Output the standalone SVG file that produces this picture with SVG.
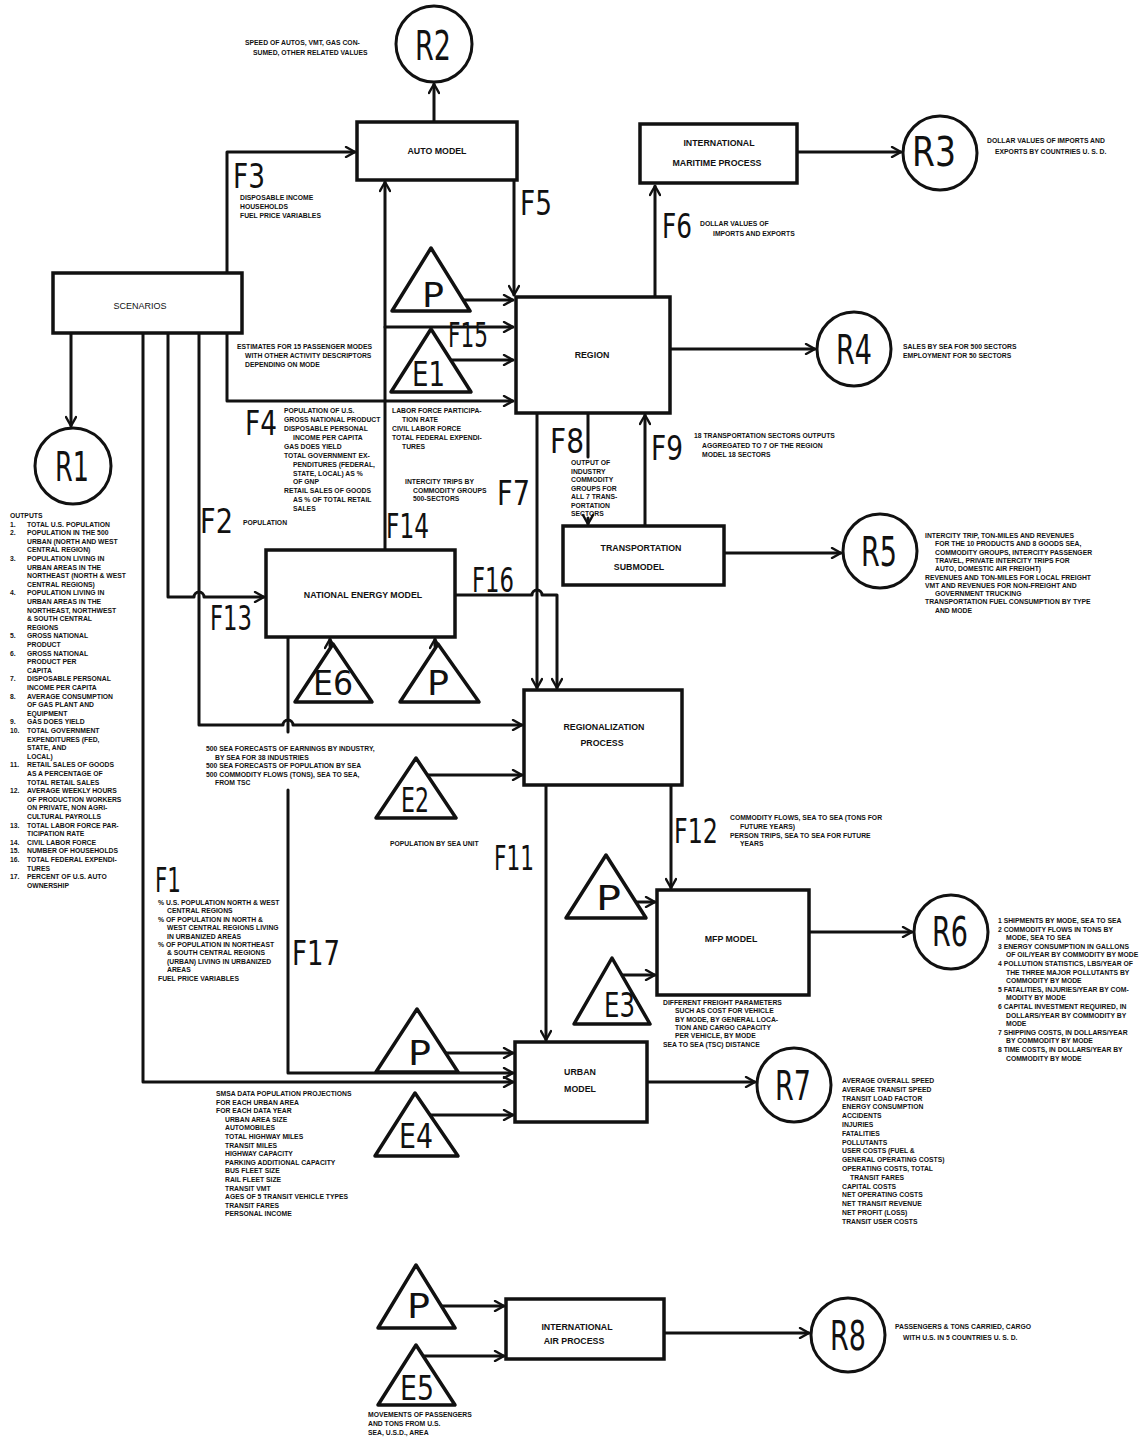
<svg xmlns="http://www.w3.org/2000/svg" width="1147" height="1440" viewBox="0 0 1147 1440">
<defs>
<marker id="a" viewBox="0 0 12 12" refX="11" refY="6" markerWidth="12" markerHeight="12" markerUnits="userSpaceOnUse" orient="auto">
<path d="M2,1 L11,6 L2,11" fill="none" stroke="#111" stroke-width="2.4" stroke-linecap="round" stroke-linejoin="round"/>
</marker>
<style>
.ln{fill:none;stroke:#111;stroke-width:3;stroke-linecap:round;stroke-linejoin:round}
.ar{marker-end:url(#a)}
.bx{fill:#fff;stroke:#111;stroke-width:3.5}
.cr{fill:#fff;stroke:#111;stroke-width:3}
.tr{fill:#fff;stroke:#111;stroke-width:3.5;stroke-linejoin:round}
.t{font-family:"Liberation Sans",Arial,sans-serif;font-weight:bold;font-size:6.8px;fill:#111}
.bl{font-family:"Liberation Sans",Arial,sans-serif;font-weight:bold;font-size:8.8px;fill:#111;text-anchor:middle}
.big{font-family:"DejaVu Sans",sans-serif;font-size:34px;fill:#111}
.rl{font-family:"DejaVu Sans",sans-serif;font-size:40px;fill:#111}
</style>
</defs>
<rect width="1147" height="1440" fill="#fff"/>

<g id="connectors">
<path class="ln ar" d="M434,121 V84"/>
<path class="ln ar" d="M227,273 V152 H355"/>
<path class="ln ar" d="M227,333 V401 H513"/>
<path class="ln ar" d="M514,181 V295"/>
<path class="ln ar" d="M655,296 V186"/>
<path class="ln ar" d="M797,152 H901"/>
<path class="ln ar" d="M462,300 H513"/>
<path class="ln ar" d="M385,327 H513"/>
<path class="ln ar" d="M452,360 H513"/>
<path class="ln ar" d="M385,549 V182"/>
<path class="ln ar" d="M670,349 H815"/>
<path class="ln ar" d="M537,414 V688"/>
<path class="ln" d="M588,414 V457"/>
<path class="ln ar" d="M588,518 V524"/>
<path class="ln ar" d="M645,526 V415"/>
<path class="ln ar" d="M724,553 H841"/>
<path class="ln ar" d="M71,334 V426"/>
<path class="ln ar" d="M168,334 V597 H194 a5,5 0 0 1 10,0 H264"/>
<path class="ln ar" d="M199,334 V725 H283 a5,5 0 0 1 10,0 H522"/>
<path class="ln ar" d="M143,334 V1082 H513"/>
<path class="ln ar" d="M456,595 H532 a5,5 0 0 1 10,0 H557 V688"/>
<path class="ln" d="M288,638 V732"/>
<path class="ln ar" d="M288,790 V1073 H513"/>
<path class="ln ar" d="M330,646 V639"/>
<path class="ln ar" d="M435,646 V639"/>
<path class="ln ar" d="M427,775 H522"/>
<path class="ln ar" d="M546,786 V1040"/>
<path class="ln ar" d="M671,786 V888"/>
<path class="ln ar" d="M636,902 H655"/>
<path class="ln ar" d="M622,975 H655"/>
<path class="ln ar" d="M809,932 H912"/>
<path class="ln ar" d="M446,1053 H513"/>
<path class="ln ar" d="M430,1115 H513"/>
<path class="ln ar" d="M648,1082 H755"/>
<path class="ln ar" d="M441,1306 H504"/>
<path class="ln ar" d="M423,1356 H504"/>
<path class="ln ar" d="M664,1333 H809"/>
</g>

<g id="flow-labels">
<text class="big" x="233" y="188" textLength="32" lengthAdjust="spacingAndGlyphs">F3</text>
<text class="t" x="240" y="200">DISPOSABLE INCOME</text>
<text class="t" x="240" y="209">HOUSEHOLDS</text>
<text class="t" x="240" y="218">FUEL PRICE VARIABLES</text>
<text class="big" x="520" y="215" textLength="32" lengthAdjust="spacingAndGlyphs">F5</text>
<text class="big" x="662" y="238" textLength="30" lengthAdjust="spacingAndGlyphs">F6</text>
<text class="t" x="700" y="226">DOLLAR VALUES OF</text>
<text class="t" x="713" y="236">IMPORTS AND EXPORTS</text>
<text class="t" x="237" y="349">ESTIMATES FOR 15 PASSENGER MODES</text>
<text class="t" x="245" y="358">WITH OTHER ACTIVITY DESCRIPTORS</text>
<text class="t" x="245" y="367">DEPENDING ON MODE</text>
<text class="big" x="448" y="347" font-size="26" textLength="40" lengthAdjust="spacingAndGlyphs">F15</text>
<text class="big" x="245" y="435" textLength="32" lengthAdjust="spacingAndGlyphs">F4</text>
<g class="t">
<text x="284" y="413">POPULATION OF U.S.</text>
<text x="284" y="422">GROSS NATIONAL PRODUCT</text>
<text x="284" y="431">DISPOSABLE PERSONAL</text>
<text x="293" y="440">INCOME PER CAPITA</text>
<text x="284" y="449">GAS DOES YIELD</text>
<text x="284" y="458">TOTAL GOVERNMENT EX-</text>
<text x="293" y="467">PENDITURES (FEDERAL,</text>
<text x="293" y="476">STATE, LOCAL) AS %</text>
<text x="293" y="484">OF GNP</text>
<text x="284" y="493">RETAIL SALES OF GOODS</text>
<text x="293" y="502">AS % OF TOTAL RETAIL</text>
<text x="293" y="511">SALES</text>
<text x="392" y="413">LABOR FORCE PARTICIPA-</text>
<text x="402" y="422">TION RATE</text>
<text x="392" y="431">CIVIL LABOR FORCE</text>
<text x="392" y="440">TOTAL FEDERAL EXPENDI-</text>
<text x="402" y="449">TURES</text>
<text x="405" y="484">INTERCITY TRIPS BY</text>
<text x="413" y="493">COMMODITY GROUPS</text>
<text x="413" y="501">500-SECTORS</text>
<text x="243" y="525">POPULATION</text>
</g>
<text class="big" x="550" y="453" textLength="34" lengthAdjust="spacingAndGlyphs">F8</text>
<g class="t">
<text x="571" y="465">OUTPUT OF</text>
<text x="571" y="473.5">INDUSTRY</text>
<text x="571" y="482">COMMODITY</text>
<text x="571" y="490.5">GROUPS FOR</text>
<text x="571" y="499">ALL 7 TRANS-</text>
<text x="571" y="507.5">PORTATION</text>
<text x="571" y="516">SECTORS</text>
</g>
<text class="big" x="651" y="460" textLength="32" lengthAdjust="spacingAndGlyphs">F9</text>
<text class="t" x="694" y="438">18 TRANSPORTATION SECTORS OUTPUTS</text>
<text class="t" x="702" y="448">AGGREGATED TO 7 OF THE REGION</text>
<text class="t" x="702" y="457">MODEL 18 SECTORS</text>
<text class="big" x="497" y="505" textLength="33" lengthAdjust="spacingAndGlyphs">F7</text>
<text class="big" x="200" y="533" textLength="33" lengthAdjust="spacingAndGlyphs">F2</text>
<text class="big" x="386" y="538" textLength="43" lengthAdjust="spacingAndGlyphs">F14</text>
<text class="big" x="472" y="592" font-size="28" textLength="42" lengthAdjust="spacingAndGlyphs">F16</text>
<text class="big" x="210" y="630" textLength="42" lengthAdjust="spacingAndGlyphs">F13</text>
<g class="t">
<text x="206" y="751">500 SEA FORECASTS OF EARNINGS BY INDUSTRY,</text>
<text x="215" y="759.5">BY SEA FOR 38 INDUSTRIES</text>
<text x="206" y="768">500 SEA FORECASTS OF POPULATION BY SEA</text>
<text x="206" y="776.5">500 COMMODITY FLOWS (TONS), SEA TO SEA,</text>
<text x="215" y="785">FROM TSC</text>
<text x="390" y="846">POPULATION BY SEA UNIT</text>
</g>
<text class="big" x="494" y="870" textLength="40" lengthAdjust="spacingAndGlyphs">F11</text>
<text class="big" x="674" y="843" textLength="44" lengthAdjust="spacingAndGlyphs">F12</text>
<g class="t">
<text x="730" y="820">COMMODITY FLOWS, SEA TO SEA (TONS FOR</text>
<text x="740" y="829">FUTURE YEARS)</text>
<text x="730" y="838">PERSON TRIPS, SEA TO SEA FOR FUTURE</text>
<text x="740" y="846">YEARS</text>
</g>
<text class="big" x="155" y="892" textLength="26" lengthAdjust="spacingAndGlyphs">F1</text>
<g class="t">
<text x="158" y="905">% U.S. POPULATION NORTH &amp; WEST</text>
<text x="167" y="913.4">CENTRAL REGIONS</text>
<text x="158" y="921.8">% OF POPULATION IN NORTH &amp;</text>
<text x="167" y="930.2">WEST CENTRAL REGIONS LIVING</text>
<text x="167" y="938.6">IN URBANIZED AREAS</text>
<text x="158" y="947">% OF POPULATION IN NORTHEAST</text>
<text x="167" y="955.4">&amp; SOUTH CENTRAL REGIONS</text>
<text x="167" y="963.8">(URBAN) LIVING IN URBANIZED</text>
<text x="167" y="972.2">AREAS</text>
<text x="158" y="980.6">FUEL PRICE VARIABLES</text>
</g>
<text class="big" x="292" y="965" textLength="48" lengthAdjust="spacingAndGlyphs">F17</text>
<g class="t">
<text x="216" y="1096">SMSA DATA POPULATION PROJECTIONS</text>
<text x="216" y="1104.6">FOR EACH URBAN AREA</text>
<text x="216" y="1113.2">FOR EACH DATA YEAR</text>
<text x="225" y="1121.8">URBAN AREA SIZE</text>
<text x="225" y="1130.4">AUTOMOBILES</text>
<text x="225" y="1139">TOTAL HIGHWAY MILES</text>
<text x="225" y="1147.6">TRANSIT MILES</text>
<text x="225" y="1156.2">HIGHWAY CAPACITY</text>
<text x="225" y="1164.8">PARKING ADDITIONAL CAPACITY</text>
<text x="225" y="1173.4">BUS FLEET SIZE</text>
<text x="225" y="1182">RAIL FLEET SIZE</text>
<text x="225" y="1190.6">TRANSIT VMT</text>
<text x="225" y="1199.2">AGES OF 5 TRANSIT VEHICLE TYPES</text>
<text x="225" y="1207.8">TRANSIT FARES</text>
<text x="225" y="1216.4">PERSONAL INCOME</text>
</g>
<g class="t">
<text x="368" y="1417">MOVEMENTS OF PASSENGERS</text>
<text x="368" y="1426">AND TONS FROM U.S.</text>
<text x="368" y="1435">SEA, U.S.D., AREA</text>
</g>
</g>

<g id="scenarios">
<rect class="bx" x="53" y="273" width="189" height="60"/>
<text x="140" y="309" font-family="Liberation Sans, Arial, sans-serif" font-size="9" fill="#111" text-anchor="middle">SCENARIOS</text>
</g>

<g id="r1">
<circle class="cr" cx="73" cy="466" r="38"/>
<text class="rl" x="55" y="481" textLength="34" lengthAdjust="spacingAndGlyphs">R1</text>
<g class="t">
<text x="10" y="518">OUTPUTS</text>
<text x="10" y="526.6">1.</text><text x="27" y="526.6">TOTAL U.S. POPULATION</text>
<text x="10" y="535.2">2.</text><text x="27" y="535.2">POPULATION IN THE 500</text>
<text x="27" y="543.8">URBAN (NORTH AND WEST</text>
<text x="27" y="552.4">CENTRAL REGION)</text>
<text x="10" y="561">3.</text><text x="27" y="561">POPULATION LIVING IN</text>
<text x="27" y="569.6">URBAN AREAS IN THE</text>
<text x="27" y="578.2">NORTHEAST (NORTH &amp; WEST</text>
<text x="27" y="586.8">CENTRAL REGIONS)</text>
<text x="10" y="595.4">4.</text><text x="27" y="595.4">POPULATION LIVING IN</text>
<text x="27" y="604">URBAN AREAS IN THE</text>
<text x="27" y="612.6">NORTHEAST, NORTHWEST</text>
<text x="27" y="621.2">&amp; SOUTH CENTRAL</text>
<text x="27" y="629.8">REGIONS</text>
<text x="10" y="638.4">5.</text><text x="27" y="638.4">GROSS NATIONAL</text>
<text x="27" y="647">PRODUCT</text>
<text x="10" y="655.6">6.</text><text x="27" y="655.6">GROSS NATIONAL</text>
<text x="27" y="664.2">PRODUCT PER</text>
<text x="27" y="672.8">CAPITA</text>
<text x="10" y="681.4">7.</text><text x="27" y="681.4">DISPOSABLE PERSONAL</text>
<text x="27" y="690">INCOME PER CAPITA</text>
<text x="10" y="698.6">8.</text><text x="27" y="698.6">AVERAGE CONSUMPTION</text>
<text x="27" y="707.2">OF GAS PLANT AND</text>
<text x="27" y="715.8">EQUIPMENT</text>
<text x="10" y="724.4">9.</text><text x="27" y="724.4">GAS DOES YIELD</text>
<text x="10" y="733">10.</text><text x="27" y="733">TOTAL GOVERNMENT</text>
<text x="27" y="741.6">EXPENDITURES (FED,</text>
<text x="27" y="750.2">STATE, AND</text>
<text x="27" y="758.8">LOCAL)</text>
<text x="10" y="767.4">11.</text><text x="27" y="767.4">RETAIL SALES OF GOODS</text>
<text x="27" y="776">AS A PERCENTAGE OF</text>
<text x="27" y="784.6">TOTAL RETAIL SALES</text>
<text x="10" y="793.2">12.</text><text x="27" y="793.2">AVERAGE WEEKLY HOURS</text>
<text x="27" y="801.8">OF PRODUCTION WORKERS</text>
<text x="27" y="810.4">ON PRIVATE, NON AGRI-</text>
<text x="27" y="819">CULTURAL PAYROLLS</text>
<text x="10" y="827.6">13.</text><text x="27" y="827.6">TOTAL LABOR FORCE PAR-</text>
<text x="27" y="836.2">TICIPATION RATE</text>
<text x="10" y="844.8">14.</text><text x="27" y="844.8">CIVIL LABOR FORCE</text>
<text x="10" y="853.4">15.</text><text x="27" y="853.4">NUMBER OF HOUSEHOLDS</text>
<text x="10" y="862">16.</text><text x="27" y="862">TOTAL FEDERAL EXPENDI-</text>
<text x="27" y="870.6">TURES</text>
<text x="10" y="879.2">17.</text><text x="27" y="879.2">PERCENT OF U.S. AUTO</text>
<text x="27" y="887.8">OWNERSHIP</text>
</g>
</g>

<g id="auto-model">
<rect class="bx" x="357" y="122" width="160" height="58"/>
<text class="bl" x="437" y="154">AUTO MODEL</text>
</g>

<g id="r2">
<circle class="cr" cx="434" cy="44" r="38"/>
<text class="rl" x="415" y="60" textLength="36" lengthAdjust="spacingAndGlyphs">R2</text>
<text class="t" x="245" y="45">SPEED OF AUTOS, VMT, GAS CON-</text>
<text class="t" x="253" y="55">SUMED, OTHER RELATED VALUES</text>
</g>

<g id="maritime">
<rect class="bx" x="640" y="124" width="157" height="59"/>
<text class="bl" x="719" y="146">INTERNATIONAL</text>
<text class="bl" x="717" y="166">MARITIME PROCESS</text>
</g>

<g id="r3">
<circle class="cr" cx="940" cy="153" r="37"/>
<text class="rl" x="912" y="166" textLength="44" lengthAdjust="spacingAndGlyphs">R3</text>
<text class="t" x="987" y="143">DOLLAR VALUES OF IMPORTS AND</text>
<text class="t" x="995" y="154">EXPORTS BY COUNTRIES U. S. D.</text>
</g>

<g id="p-region">
<polygon class="tr" points="431,248 470,311 392,311"/>
<text class="big" x="422" y="307" font-size="38" textLength="22" lengthAdjust="spacingAndGlyphs">P</text>
</g>
<g id="e1">
<polygon class="tr" points="431,329 471,392 391,392"/>
<text class="big" x="412" y="386" font-size="36" textLength="33" lengthAdjust="spacingAndGlyphs">E1</text>
</g>

<g id="region">
<rect class="bx" x="516" y="297" width="154" height="116"/>
<text class="bl" x="592" y="358">REGION</text>
</g>

<g id="r4">
<circle class="cr" cx="854" cy="349" r="37"/>
<text class="rl" x="836" y="364" textLength="36" lengthAdjust="spacingAndGlyphs">R4</text>
<text class="t" x="903" y="349">SALES BY SEA FOR 500 SECTORS</text>
<text class="t" x="903" y="358">EMPLOYMENT FOR 50 SECTORS</text>
</g>

<g id="transportation">
<rect class="bx" x="563" y="526" width="161" height="59"/>
<text class="bl" x="641" y="551">TRANSPORTATION</text>
<text class="bl" x="639" y="570">SUBMODEL</text>
</g>

<g id="r5">
<circle class="cr" cx="880" cy="551" r="37"/>
<text class="rl" x="861" y="566" textLength="36" lengthAdjust="spacingAndGlyphs">R5</text>
<g class="t">
<text x="925" y="538">INTERCITY TRIP, TON-MILES AND REVENUES</text>
<text x="935" y="546.3">FOR THE 10 PRODUCTS AND 8 GOODS SEA,</text>
<text x="935" y="554.6">COMMODITY GROUPS, INTERCITY PASSENGER</text>
<text x="935" y="562.9">TRAVEL, PRIVATE INTERCITY TRIPS FOR</text>
<text x="935" y="571.2">AUTO, DOMESTIC AIR FREIGHT)</text>
<text x="925" y="579.5">REVENUES AND TON-MILES FOR LOCAL FREIGHT</text>
<text x="925" y="587.8">VMT AND REVENUES FOR NON-FREIGHT AND</text>
<text x="935" y="596.1">GOVERNMENT TRUCKING</text>
<text x="925" y="604.4">TRANSPORTATION FUEL CONSUMPTION BY TYPE</text>
<text x="935" y="612.7">AND MODE</text>
</g>
</g>

<g id="national-energy">
<rect class="bx" x="266" y="550" width="189" height="87"/>
<text class="bl" x="363" y="598">NATIONAL ENERGY MODEL</text>
</g>
<g id="e6">
<polygon class="tr" points="333,644 372,702 295,702"/>
<text class="big" x="313" y="695" font-size="36" textLength="40" lengthAdjust="spacingAndGlyphs">E6</text>
</g>
<g id="p-energy">
<polygon class="tr" points="438,644 479,702 400,702"/>
<text class="big" x="427" y="695" font-size="38" textLength="22" lengthAdjust="spacingAndGlyphs">P</text>
</g>

<g id="regionalization">
<rect class="bx" x="524" y="690" width="158" height="95"/>
<text class="bl" x="604" y="730">REGIONALIZATION</text>
<text class="bl" x="602" y="746">PROCESS</text>
</g>
<g id="e2">
<polygon class="tr" points="416,758 456,818 376,818"/>
<text class="big" x="401" y="812" font-size="36" textLength="28" lengthAdjust="spacingAndGlyphs">E2</text>
</g>

<g id="p-mfp">
<polygon class="tr" points="606,855 646,918 566,918"/>
<text class="big" x="596" y="910" font-size="42" textLength="25" lengthAdjust="spacingAndGlyphs">P</text>
</g>
<g id="e3">
<polygon class="tr" points="612,958 650,1024 574,1024"/>
<text class="big" x="604" y="1017" font-size="40" textLength="31" lengthAdjust="spacingAndGlyphs">E3</text>
</g>
<g id="mfp-model">
<rect class="bx" x="657" y="890" width="152" height="105"/>
<text class="bl" x="731" y="942">MFP MODEL</text>
<g class="t">
<text x="663" y="1005">DIFFERENT FREIGHT PARAMETERS</text>
<text x="675" y="1013.3">SUCH AS COST FOR VEHICLE</text>
<text x="675" y="1021.6">BY MODE, BY GENERAL LOCA-</text>
<text x="675" y="1029.9">TION AND CARGO CAPACITY</text>
<text x="675" y="1038.2">PER VEHICLE, BY MODE</text>
<text x="663" y="1046.5">SEA TO SEA (TSC) DISTANCE</text>
</g>
</g>

<g id="r6">
<circle class="cr" cx="951" cy="932" r="37"/>
<text class="rl" x="932" y="946" textLength="36" lengthAdjust="spacingAndGlyphs">R6</text>
<g class="t">
<text x="998" y="923">1 SHIPMENTS BY MODE, SEA TO SEA</text>
<text x="998" y="931.6">2 COMMODITY FLOWS IN TONS BY</text>
<text x="1006" y="940.2">MODE, SEA TO SEA</text>
<text x="998" y="948.8">3 ENERGY CONSUMPTION IN GALLONS</text>
<text x="1006" y="957.4">OF OIL/YEAR BY COMMODITY BY MODE</text>
<text x="998" y="966">4 POLLUTION STATISTICS, LBS/YEAR OF</text>
<text x="1006" y="974.6">THE THREE MAJOR POLLUTANTS BY</text>
<text x="1006" y="983.2">COMMODITY BY MODE</text>
<text x="998" y="991.8">5 FATALITIES, INJURIES/YEAR BY COM-</text>
<text x="1006" y="1000.4">MODITY BY MODE</text>
<text x="998" y="1009">6 CAPITAL INVESTMENT REQUIRED, IN</text>
<text x="1006" y="1017.6">DOLLARS/YEAR BY COMMODITY BY</text>
<text x="1006" y="1026.2">MODE</text>
<text x="998" y="1034.8">7 SHIPPING COSTS, IN DOLLARS/YEAR</text>
<text x="1006" y="1043.4">BY COMMODITY BY MODE</text>
<text x="998" y="1052">8 TIME COSTS, IN DOLLARS/YEAR BY</text>
<text x="1006" y="1060.6">COMMODITY BY MODE</text>
</g>
</g>

<g id="p-urban">
<polygon class="tr" points="417,1009 458,1072 376,1072"/>
<text class="big" x="408" y="1065" font-size="38" textLength="23" lengthAdjust="spacingAndGlyphs">P</text>
</g>
<g id="e4">
<polygon class="tr" points="415,1093 458,1156 375,1156"/>
<text class="big" x="399" y="1148" font-size="40" textLength="34" lengthAdjust="spacingAndGlyphs">E4</text>
</g>
<g id="urban-model">
<rect class="bx" x="515" y="1042" width="132" height="80"/>
<text class="bl" x="580" y="1075">URBAN</text>
<text class="bl" x="580" y="1092">MODEL</text>
</g>

<g id="r7">
<circle class="cr" cx="794" cy="1085" r="37"/>
<text class="rl" x="775" y="1100" textLength="36" lengthAdjust="spacingAndGlyphs">R7</text>
<g class="t">
<text x="842" y="1083">AVERAGE OVERALL SPEED</text>
<text x="842" y="1091.8">AVERAGE TRANSIT SPEED</text>
<text x="842" y="1100.6">TRANSIT LOAD FACTOR</text>
<text x="842" y="1109.4">ENERGY CONSUMPTION</text>
<text x="842" y="1118.2">ACCIDENTS</text>
<text x="842" y="1127">INJURIES</text>
<text x="842" y="1135.8">FATALITIES</text>
<text x="842" y="1144.6">POLLUTANTS</text>
<text x="842" y="1153.4">USER COSTS (FUEL &amp;</text>
<text x="842" y="1162.2">GENERAL OPERATING COSTS)</text>
<text x="842" y="1171">OPERATING COSTS, TOTAL</text>
<text x="850" y="1179.8">TRANSIT FARES</text>
<text x="842" y="1188.6">CAPITAL COSTS</text>
<text x="842" y="1197.4">NET OPERATING COSTS</text>
<text x="842" y="1206.2">NET TRANSIT REVENUE</text>
<text x="842" y="1215">NET PROFIT (LOSS)</text>
<text x="842" y="1223.8">TRANSIT USER COSTS</text>
</g>
</g>

<g id="p-air">
<polygon class="tr" points="416,1265 455,1328 378,1328"/>
<text class="big" x="407" y="1318" font-size="38" textLength="23" lengthAdjust="spacingAndGlyphs">P</text>
</g>
<g id="e5">
<polygon class="tr" points="416,1345 455,1405 378,1405"/>
<text class="big" x="400" y="1400" font-size="36" textLength="34" lengthAdjust="spacingAndGlyphs">E5</text>
</g>
<g id="air-process">
<rect class="bx" x="506" y="1299" width="158" height="60"/>
<text class="bl" x="577" y="1330">INTERNATIONAL</text>
<text class="bl" x="574" y="1344">AIR PROCESS</text>
</g>

<g id="r8">
<circle class="cr" cx="848" cy="1335" r="37"/>
<text class="rl" x="830" y="1350" textLength="36" lengthAdjust="spacingAndGlyphs">R8</text>
<text class="t" x="895" y="1329">PASSENGERS &amp; TONS CARRIED, CARGO</text>
<text class="t" x="903" y="1340">WITH U.S. IN 5 COUNTRIES U. S. D.</text>
</g>
</svg>
